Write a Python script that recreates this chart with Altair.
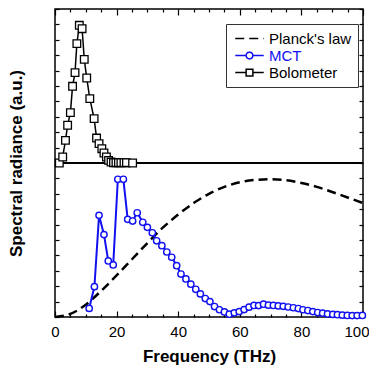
import altair as alt
import pandas as pd

FONT = "Liberation Sans"

# ---- data (arbitrary units; 10 units = one panel) ----
planck_freq = [0, 5, 10, 15, 20, 25, 30, 35, 40, 45, 50, 55, 60, 65, 70, 75, 80, 85, 90, 95, 100]
planck_val = [0, 0.2, 0.8, 1.7, 2.7, 3.75, 4.8, 5.8, 6.65, 7.4, 8.0, 8.45, 8.75, 8.9, 8.94,
              8.88, 8.7, 8.45, 8.12, 7.76, 7.4]

mct_freq = [11.1, 12.8, 14.3, 15.9, 17.3, 18.9, 20.4, 22.2, 23.6, 25.2, 26.7, 28.5, 30.0,
            31.6, 33.0, 34.7, 36.3, 37.9, 39.5, 40.9, 42.5, 44.1, 45.7, 47.2, 48.8, 50.3,
            51.8, 53.4, 55.0, 56.6, 58.2, 59.8, 61.4, 63.0, 64.6, 66.1, 67.7, 69.3, 70.9,
            72.5, 74.1, 75.7, 77.4, 79.0, 80.5, 82.1, 83.7, 85.3, 86.9, 88.5, 90.2, 91.7,
            93.3, 94.9, 96.5, 98.1, 99.8]
mct_val = [0.56, 1.97, 6.6, 5.35, 3.64, 3.38, 8.94, 8.94, 6.34, 6.23, 6.77, 6.15, 5.82,
           5.47, 4.95, 4.63, 4.22, 3.88, 3.33, 2.79, 2.47, 2.13, 1.8, 1.5, 1.2, 1.0,
           0.68, 0.47, 0.33, 0.18, 0.27, 0.35, 0.48, 0.64, 0.75, 0.74, 0.83, 0.77, 0.75,
           0.72, 0.69, 0.65, 0.6, 0.55, 0.47, 0.42, 0.35, 0.29, 0.25, 0.2, 0.17, 0.15,
           0.12, 0.1, 0.09, 0.09, 0.1]

bolo_freq = [1.4, 2.5, 3.4, 4.1, 5.0, 5.7, 6.5, 7.1, 7.9, 8.8, 9.5, 10.3, 11.3, 12.7, 13.5,
             14.3, 15.2, 15.9, 16.7, 17.4, 18.2, 19.0, 19.8, 20.6, 21.4, 22.4, 23.2, 25.2]
bolo_val = [0, 0.39, 1.47, 2.45, 3.27, 4.98, 5.87, 7.75, 8.94, 8.72, 6.73, 5.52, 4.18, 2.88,
            1.62, 1.26, 0.93, 0.65, 0.39, 0.17, 0.06, 0.02, 0.02, 0.02, 0.02, 0.02, 0.02, 0.0]

panel_offset = 10          # bolometer panel sits on top of the MCT panel
x_ticks = list(range(0, 101, 5))
y_ticks = list(range(0, 21))

series = ["Planck's law", "MCT", "Bolometer"]
series_colors = ["black", "#1010f0", "black"]
series_dash = [[9, 5], [1, 0], [1, 0]]

rows = []
for f, v in zip(planck_freq, planck_val):
    rows.append(("Planck's law", f, v))
for f, v in zip(mct_freq, mct_val):
    rows.append(("MCT", f, v))
for f, v in zip(bolo_freq, bolo_val):
    rows.append(("Bolometer", f, v + panel_offset))
df = pd.DataFrame(rows, columns=["series", "freq", "y"])

xscale = alt.Scale(domain=[0, 100], nice=False, zero=False)
yscale = alt.Scale(domain=[0, 20], nice=False, zero=False)

tick_x = {"expr": "datum.value % 20 === 0 ? -6 : -3"}
tick_y = {"expr": "-4"}

common_axis = dict(domain=False, grid=False, tickColor="black", tickWidth=1.2,
                   labelColor="black", labelFont=FONT, titleFont=FONT, titleColor="black")

x_bottom = alt.X("freq:Q", scale=xscale, axis=alt.Axis(
    orient="bottom", values=x_ticks, tickSize=tick_x,
    labelExpr="datum.value % 20 === 0 ? datum.label : ''",
    labelAlign={"expr": "datum.value === 100 ? 'right' : 'center'"},
    labelOffset={"expr": "datum.value === 100 ? 6 : 0"},
    labelFontSize=15, labelPadding=13, labelFlush=False, labelOverlap=False, labelBound=False,
    title="Frequency (THz)", titleFontSize=17, titleFontWeight="bold", titlePadding=6,
    **common_axis))
x_top = alt.X("freq:Q", scale=xscale, axis=alt.Axis(
    orient="top", values=x_ticks, tickSize=tick_x, labels=False, title=None, **common_axis))
x_none = alt.X("freq:Q", scale=xscale, axis=None)

y_left = alt.Y("y:Q", scale=yscale, axis=alt.Axis(
    orient="left", values=y_ticks, tickSize=tick_y, labels=False,
    title="Spectral radiance (a.u.)", titleFontSize=17, titleFontWeight="bold",
    titlePadding=29, **common_axis))
y_right = alt.Y("y:Q", scale=yscale, axis=alt.Axis(
    orient="right", values=y_ticks, tickSize=tick_y, labels=False, title=None, **common_axis))
y_none = alt.Y("y:Q", scale=yscale, axis=None)

LINE_PATH = "M-1.9,0H1.9"
CIRC_PATH = ("M-1.9,0H-0.45M0.45,0H1.9M-0.45,0A0.45,0.45 0 1,0 0.45,0"
             "A0.45,0.45 0 1,0 -0.45,0Z")
SQ_PATH = "M-1.9,0H-0.45M0.45,0H1.9M-0.45,-0.45H0.45V0.45H-0.45Z"

shape_expr = ("datum.value === 'MCT' ? '%s' : (datum.value === 'Bolometer' ? '%s' : '%s')"
              % (CIRC_PATH, SQ_PATH, LINE_PATH))
dash_expr = "(datum.value === 'MCT' || datum.value === 'Bolometer') ? [1, 0] : [7, 3]"
label_color_expr = "datum.value === 'MCT' ? '#1010f0' : 'black'"

legend = alt.Legend(
    title=None, orient="none", legendX=171, legendY=15,
    strokeColor="#333333", fillColor="white", padding=6, rowPadding=0,
    symbolSize=225, symbolStrokeWidth=1.5, symbolOffset=9, labelOffset=11,
    symbolType={"expr": shape_expr}, symbolDash={"expr": dash_expr},
    symbolFillColor="white",
    labelFont=FONT, labelFontSize=15, labelColor={"expr": label_color_expr})

color = alt.Color("series:N", scale=alt.Scale(domain=series, range=series_colors), legend=legend)
dash = alt.StrokeDash("series:N", scale=alt.Scale(domain=series, range=series_dash), legend=None)

base = alt.Chart(df)

planck = base.transform_filter(alt.datum.series == "Planck's law").mark_line(
    strokeWidth=2.5, interpolate="monotone").encode(x=x_bottom, y=y_left, color=color, strokeDash=dash)

mct_line = base.transform_filter(alt.datum.series == "MCT").mark_line(
    strokeWidth=2).encode(x=x_none, y=y_none, color=color, strokeDash=dash)

mct_pts = base.transform_filter(alt.datum.series == "MCT").mark_point(
    shape="circle", size=40, filled=False, fill="white", fillOpacity=1, strokeWidth=1.4,
    opacity=1).encode(x=x_none, y=y_none, color=color)

sep = alt.Chart(df).mark_rule(color="black", strokeWidth=1.5).encode(
    y=alt.YDatum(panel_offset, scale=yscale, axis=None))

bolo_line = base.transform_filter(alt.datum.series == "Bolometer").mark_line(
    strokeWidth=1.5).encode(x=x_top, y=y_right, color=color, strokeDash=dash)

bolo_pts = base.transform_filter(alt.datum.series == "Bolometer").mark_point(
    shape="square", size=58, filled=False, fill="white", fillOpacity=1, strokeWidth=1.3,
    opacity=1).encode(x=x_none, y=y_none, color=color)

chart = alt.layer(planck, mct_line, mct_pts, sep, bolo_line, bolo_pts).resolve_axis(
    x="independent", y="independent"
).properties(
    width=308, height=308,
    autosize=alt.AutoSizeParams(type="none"),
    padding={"left": 47, "top": 1, "right": 6, "bottom": 49},
    background="white",
).configure_view(stroke="black", strokeWidth=1.5)

chart.save("out.html", embed_options={"renderer": "svg", "actions": False})
